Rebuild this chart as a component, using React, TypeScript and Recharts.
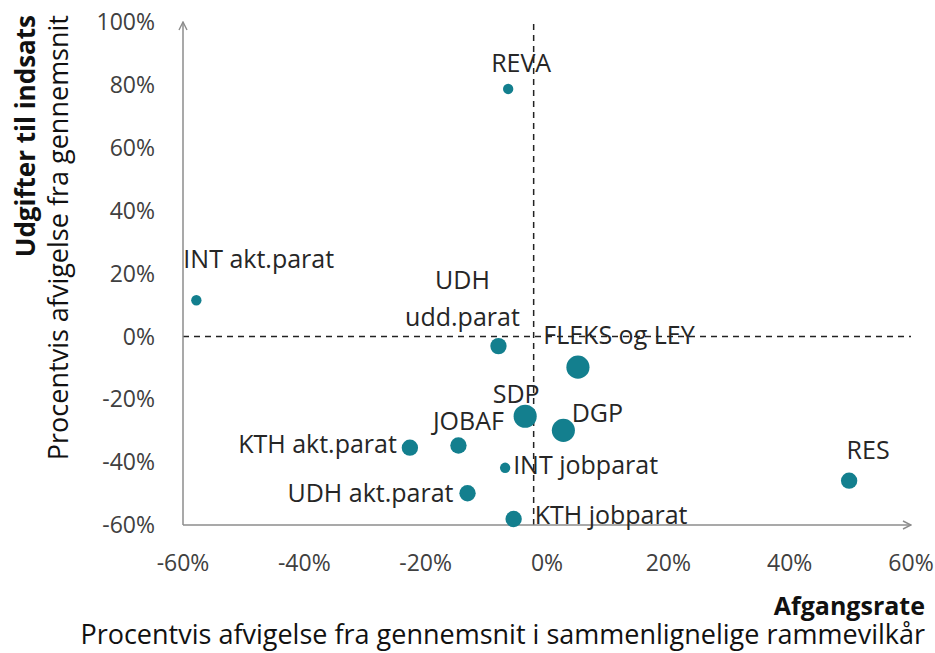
import React from "react";
import {
  ScatterChart,
  Scatter,
  XAxis,
  YAxis,
  ZAxis,
  ReferenceLine,
} from "recharts";

// afgangsrate (x) og udgifter (y), pct. afvigelse fra gennemsnit
const names = [
  "REVA",
  "INT akt.parat",
  "UDH udd.parat",
  "FLEKS og LEY",
  "SDP",
  "DGP",
  "JOBAF",
  "KTH akt.parat",
  "INT jobparat",
  "UDH akt.parat",
  "KTH jobparat",
  "RES",
];
const afgang = [-6.4, -57.8, -8.0, 5.1, -3.6, 2.7, -14.6, -22.6, -6.9, -13.1, -5.5, 49.8];
const udgift = [78.7, 11.5, -3.1, -9.8, -25.4, -29.9, -34.7, -35.4, -41.8, -49.9, -58.1, -45.9];
const volume = [20, 20, 50, 100, 100, 100, 50, 50, 20, 50, 50, 50];

const xTicks = [-60, -40, -20, 0, 20, 40, 60];
const yTicks = [-60, -40, -20, 0, 20, 40, 60, 80, 100];

const data = names.map((name, i) => ({
  name,
  x: afgang[i],
  y: udgift[i],
  z: volume[i],
}));

const FONT = "'Open Sans', sans-serif";
const DOT = "#137f8e";
const TEXT = "#262626";

// label placement relative to the dot
const labelPos: Record<string, { dx: number; dy: number; anchor: "start" | "middle" | "end" }> = {
  REVA: { dx: 13, dy: -27, anchor: "middle" },
  "INT akt.parat": { dx: -13, dy: -42, anchor: "start" },
  "UDH udd.parat": { dx: -36, dy: -30, anchor: "middle" },
  "FLEKS og LEY": { dx: 41, dy: -33, anchor: "middle" },
  SDP: { dx: -9, dy: -23, anchor: "middle" },
  DGP: { dx: 34, dy: -18, anchor: "middle" },
  JOBAF: { dx: 10, dy: -25, anchor: "middle" },
  "KTH akt.parat": { dx: -13, dy: -5, anchor: "end" },
  "INT jobparat": { dx: 8, dy: -4, anchor: "start" },
  "UDH akt.parat": { dx: -14, dy: -1, anchor: "end" },
  "KTH jobparat": { dx: 21, dy: -5, anchor: "start" },
  RES: { dx: 19, dy: -32, anchor: "middle" },
};

const pct = (v: number) => `${v}%`;

function Dot(props: any) {
  const { cx, cy, size, payload } = props;
  if (cx == null || cy == null) return null;
  const r = Math.sqrt((size ?? 100) / Math.PI);
  const pos = labelPos[payload.name] ?? { dx: 0, dy: -20, anchor: "middle" };
  const lines = payload.name === "UDH udd.parat" ? ["UDH", "udd.parat"] : [payload.name];
  return (
    <g>
      <circle cx={cx} cy={cy} r={r} fill={DOT} />
      {lines.map((line: string, i: number) => (
        <text
          key={line}
          x={cx + pos.dx}
          y={cy + pos.dy - (lines.length - 1 - i) * 37}
          textAnchor={pos.anchor}
          dominantBaseline="central"
          fontFamily={FONT}
          fontSize={25}
          fill={TEXT}
        >
          {line}
        </text>
      ))}
    </g>
  );
}

export default function App() {
  return (
    <div style={{ position: "absolute", left: 0, top: 0, width: 935, height: 653, background: "#fff" }}>
      <svg width={0} height={0} style={{ position: "absolute" }}>
        <defs>
          <marker
            id="axisArrow"
            viewBox="0 0 10 10"
            refX="9"
            refY="5"
            markerWidth="10"
            markerHeight="10"
            markerUnits="userSpaceOnUse"
            orient="auto-start-reverse"
          >
            <path d="M1,1 L9,5 L1,9" fill="none" stroke="#8c8c8c" strokeWidth={1.4} />
          </marker>
        </defs>
      </svg>
      <ScatterChart
        width={935}
        height={653}
        margin={{ top: 22, right: 24, bottom: 0, left: 0 }}
      >
        <XAxis
          type="number"
          dataKey="x"
          domain={[-60, 60]}
          ticks={xTicks}
          tickFormatter={pct}
          tickLine={false}
          tickSize={6}
          tickMargin={24}
          height={128}
          axisLine={{ stroke: "#8c8c8c", strokeWidth: 1.5, markerEnd: "url(#axisArrow)" } as any}
          tick={{ fill: "#404040", fontSize: 23, fontFamily: FONT }}
        />
        <YAxis
          type="number"
          dataKey="y"
          domain={[-60, 100]}
          ticks={yTicks}
          tickFormatter={pct}
          tickLine={false}
          tickSize={6}
          tickMargin={22}
          width={183}
          axisLine={{ stroke: "#8c8c8c", strokeWidth: 1.5, markerStart: "url(#axisArrow)" } as any}
          tick={{ fill: "#404040", fontSize: 23, fontFamily: FONT }}
        />
        <ZAxis type="number" dataKey="z" domain={[0, 100]} range={[0, 420]} />
        <ReferenceLine y={0} stroke="#222" strokeWidth={1.5} strokeDasharray="6 5" />
        <ReferenceLine x={-2.2} stroke="#222" strokeWidth={1.5} strokeDasharray="6 5" />
        <Scatter data={data} isAnimationActive={false} shape={<Dot />} />
      </ScatterChart>
      <svg
        width={935}
        height={653}
        style={{ position: "absolute", left: 0, top: 0, pointerEvents: "none" }}
      >
        <text
          transform="translate(35,15) rotate(-90)"
          textAnchor="end"
          fontFamily={FONT}
          fontWeight="bold"
          fontSize={26}
          fill="#111"
        >
          Udgifter til indsats
        </text>
        <text
          transform="translate(68,15) rotate(-90)"
          textAnchor="end"
          fontFamily={FONT}
          fontSize={27}
          fill="#111"
        >
          Procentvis afvigelse fra gennemsnit
        </text>
        <text
          x={925}
          y={615}
          textAnchor="end"
          fontFamily={FONT}
          fontWeight="bold"
          fontSize={25}
          fill="#111"
        >
          Afgangsrate
        </text>
        <text x={925} y={644} textAnchor="end" fontFamily={FONT} fontSize={27} fill="#111">
          Procentvis afvigelse fra gennemsnit i sammenlignelige rammevilkår
        </text>
      </svg>
    </div>
  );
}
